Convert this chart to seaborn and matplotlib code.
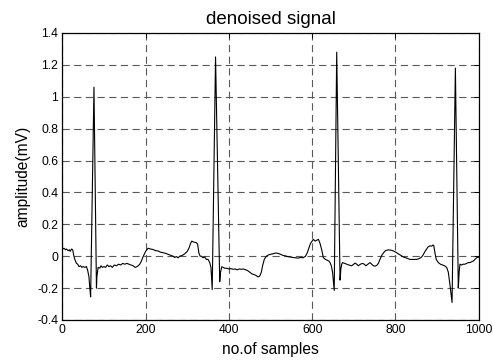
import numpy as np
import pandas as pd
import matplotlib
matplotlib.use("Agg")
import matplotlib.pyplot as plt
import seaborn as sns

# ---- data ----
samples = [0, 4, 8, 10, 14, 17, 19, 22, 25, 27, 30, 34, 37, 40, 44, 47, 50, 54, 58, 61, 64, 66,
           68, 76, 82, 83, 86, 90, 93, 96, 100, 104, 108, 112, 116, 120, 125, 130, 135, 140, 145,
           150, 155, 160, 165, 170, 175, 180, 186, 190, 194, 200, 206, 212, 218, 224, 230, 236,
           242, 248, 254, 260, 266, 270, 274, 278, 282, 288, 294, 300, 304, 308, 311, 314, 318,
           322, 325, 328, 331, 334, 338, 342, 346, 350, 354, 357,
           360, 368, 378, 380, 383, 386, 390, 395, 400, 405, 410, 415, 420, 425, 430, 435, 440,
           445, 450, 455, 460, 465, 470, 474, 478, 481, 485, 490, 495, 500, 506, 512, 518, 524,
           530, 536, 542, 548, 554, 560, 566, 572, 578, 584, 588, 592, 596, 600, 603, 607, 611,
           615, 619, 623, 627, 632, 636, 640, 643, 646, 649,
           653, 659, 667, 669, 671, 673, 678, 683, 688, 695, 700, 703, 707, 711, 716, 721, 725,
           729, 734, 739, 743, 747, 751, 755, 759, 763, 767, 771, 776, 783, 789, 795, 801, 807,
           813, 819, 825, 830, 835, 840, 845, 851, 857, 863, 867, 871, 875, 879, 883, 887, 890,
           892, 895, 898, 903, 908, 913, 918, 923, 927, 931,
           936, 944, 951, 953, 955, 959, 963, 967, 971, 975, 979, 983, 987, 991, 995, 1000]

amplitude = [0.043, 0.05, 0.04, 0.045, 0.035, 0.04, 0.03, 0.045, 0.04, 0.01, -0.02, -0.045,
             -0.05, -0.065, -0.06, -0.07, -0.065, -0.07, -0.065, -0.09, -0.13, -0.2,
             -0.255, 1.06, -0.2, -0.13, -0.07, -0.075, -0.06, -0.07, -0.065, -0.07, -0.055,
             -0.065, -0.06, -0.07, -0.055, -0.06, -0.05, -0.055, -0.045, -0.05, -0.045, -0.05,
             -0.055, -0.06, -0.07, -0.065, -0.05, -0.03, -0.003, 0.03, 0.05, 0.045, 0.042,
             0.035, 0.033, 0.025, 0.022, 0.018, 0.012, 0.006, 0.0, -0.008, -0.002, -0.01, 0.0,
             0.005, 0.015, 0.03, 0.05, 0.08, 0.095, 0.09, 0.087, 0.085, 0.075, 0.02, 0.0, 0.0,
             -0.01, -0.005, -0.02, -0.02, -0.04, -0.07,
             -0.21, 1.25, -0.16, -0.1, -0.066, -0.07, -0.075, -0.076, -0.08, -0.078, -0.082,
             -0.08, -0.085, -0.08, -0.082, -0.08, -0.085, -0.09, -0.1, -0.11, -0.115, -0.12,
             -0.13, -0.125, -0.1, -0.06, -0.02, 0.0, 0.008, 0.012, 0.015, 0.02, 0.018, 0.012,
             0.005, 0.002, -0.003, -0.005, -0.008, -0.01, -0.012, -0.008, -0.01, 0.0, 0.02,
             0.05, 0.08, 0.095, 0.106, 0.095, 0.1, 0.106, 0.08, 0.04, -0.01, -0.02, -0.025,
             -0.03, -0.04, -0.06, -0.1,
             -0.215, 1.28, -0.15, -0.08, -0.05, -0.04, -0.045, -0.05, -0.055, -0.06, -0.05,
             -0.043, -0.05, -0.06, -0.05, -0.045, -0.05, -0.06, -0.05, -0.04, -0.05, -0.06,
             -0.062, -0.058, -0.045, -0.02, 0.005, 0.02, 0.035, 0.04, 0.038, 0.033, 0.025, 0.015,
             0.005, -0.005, -0.01, -0.015, -0.02, -0.02, -0.02, -0.02, -0.015, -0.005, 0.01,
             0.03, 0.045, 0.06, 0.065, 0.063, 0.07, 0.068, 0.02, -0.02, -0.04, -0.05, -0.055,
             -0.06, -0.07, -0.1, -0.18,
             -0.29, 1.18, -0.2, -0.1, -0.05, -0.055, -0.05, -0.05, -0.045, -0.04, -0.04, -0.035,
             -0.03, -0.02, -0.01, -0.005]

x_ticks = [0, 200, 400, 600, 800, 1000]
y_ticks = [-0.4, -0.2, 0, 0.2, 0.4, 0.6, 0.8, 1, 1.2, 1.4]
y_tick_labels = ["-0.4", "-0.2", "0", "0.2", "0.4", "0.6", "0.8", "1", "1.2", "1.4"]

df = pd.DataFrame({"sample": samples, "amp": amplitude})

sns.set_theme(style="white")
plt.rcParams["font.family"] = ["Liberation Sans", "DejaVu Sans"]

fig = plt.figure(figsize=(4.93, 3.61), dpi=100)
ax = fig.add_axes([0.1264, 0.1136, 0.8446, 0.795])

sns.lineplot(data=df, x="sample", y="amp", ax=ax, color="black", linewidth=0.8,
             sort=False, estimator=None)

ax.set_xlim(0, 1000)
ax.set_ylim(-0.4, 1.4)
ax.set_xticks(x_ticks)
ax.set_xticklabels([str(t) for t in x_ticks])
ax.set_yticks(y_ticks)
ax.set_yticklabels(y_tick_labels)

ax.grid(True, color="0.35", linestyle=(0, (6.5, 4)), linewidth=0.8)
ax.set_axisbelow(True)
for s in ax.spines.values():
    s.set_color("black")
    s.set_linewidth(0.9)
ax.tick_params(direction="in", length=3.5, width=0.7, top=True, right=True,
               labelsize=8.8, colors="black", pad=3)

ax.set_title("denoised signal", fontsize=13.5, color="black", pad=6.5)
ax.set_xlabel("no.of samples", fontsize=11.2, color="black", labelpad=4)
ax.set_ylabel("amplitude(mV)", fontsize=11.2, color="black", labelpad=5)

fig.savefig("out.png", dpi=100, facecolor="white")
